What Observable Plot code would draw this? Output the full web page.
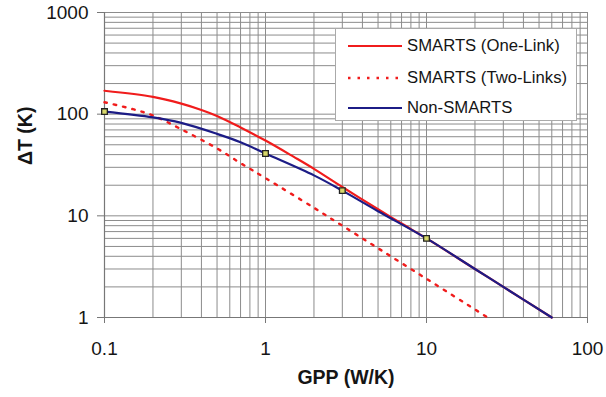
<!DOCTYPE html>
<html>
<head>
<meta charset="utf-8">
<script src="https://cdn.jsdelivr.net/npm/d3@7"></script>
<script src="https://cdn.jsdelivr.net/npm/@observablehq/plot@0.6"></script>
<style>
  html, body { margin: 0; padding: 0; background: #fff; }
  #wrap { position: relative; width: 606px; height: 397px; font-family: "Liberation Sans", Arial, sans-serif; }
  #legend { position: absolute; left: 335px; top: 28px; width: 242px; height: 93px; background: #fff; border: 1px solid #aaa; box-sizing: border-box; }
  .row { position: absolute; left: 0; height: 20px; }
  .sw { position: absolute; left: 12px; width: 54px; }
  .lbl { position: absolute; left: 71px; top: 0; font-size: 16.7px; color: #151515; white-space: nowrap; line-height: 20px; }
</style>
</head>
<body>
<div id="wrap"></div>
<script>
// Data
const gppOneLink = [0.1, 0.2, 0.3, 0.4, 0.5, 0.7, 1, 1.5, 2, 3, 5, 7, 10, 20, 30, 60];
const dtOneLink  = [170, 148, 127, 110, 96, 74, 55, 38, 29, 19.2, 11.6, 8.4, 6, 3, 2, 1];
const gppTwoLinks = [0.1, 0.15, 0.2, 0.3, 0.5, 0.7, 1, 2, 3, 5, 10, 20, 24];
const dtTwoLinks  = [131, 112, 97, 71, 46, 33, 23.5, 12, 8, 4.8, 2.4, 1.2, 1];
const gppNon = [0.1, 0.2, 0.3, 0.5, 0.7, 1, 2, 3, 5, 10, 20, 30, 60];
const dtNon  = [106, 93, 82, 64, 53, 41, 25, 17.7, 11.1, 6, 3, 2, 1];
const gppMarkers = [0.1, 1, 3, 10];
const dtMarkers  = [106, 41, 17.7, 6];
const seriesNames = ["SMARTS (One-Link)", "SMARTS (Two-Links)", "Non-SMARTS"];
const xTicks = [0.1, 1, 10, 100];
const yTicks = [1, 10, 100, 1000];
const xGrid = [0.2,0.3,0.4,0.5,0.6,0.7,0.8,0.9,1,2,3,4,5,6,7,8,9,10,20,30,40,50,60,70,80,90,100];
const yGrid = [2,3,4,5,6,7,8,9,10,20,30,40,50,60,70,80,90,100,200,300,400,500,600,700,800,900,1000];

const zip = (xs, ys) => xs.map((x, i) => ({x, y: ys[i]}));
const red = "#f01c1c", blue = "#1c1c86";

const chart = Plot.plot({
  width: 606,
  height: 397,
  marginLeft: 104,
  marginRight: 19,
  marginTop: 12,
  marginBottom: 80,
  style: { fontFamily: "Liberation Sans, Arial, sans-serif", fontSize: "19px", color: "#151515", background: "#fff" },
  x: { type: "log", domain: [0.1, 100] },
  y: { type: "log", domain: [1, 1000] },
  marks: [
    Plot.ruleX(xGrid, { stroke: "#8c8c8c", strokeWidth: 1 }),
    Plot.ruleY(yGrid, { stroke: "#8c8c8c", strokeWidth: 1 }),
    Plot.ruleX([0.1], { stroke: "#777", strokeWidth: 1.2 }),
    Plot.ruleY([1], { stroke: "#777", strokeWidth: 1.2 }),
    Plot.axisX({ ticks: xTicks, tickFormat: d => String(d), tickSize: 6, tickPadding: 18, stroke: "#777", label: null }),
    Plot.axisY({ ticks: yTicks, tickFormat: d => String(d), tickSize: 7, tickPadding: 9, stroke: "#777", label: null }),
    Plot.line(zip(gppTwoLinks, dtTwoLinks), { x: "x", y: "y", stroke: red, strokeWidth: 2.4, strokeDasharray: "2.5,7", curve: "catmull-rom" }),
    Plot.line(zip(gppOneLink, dtOneLink), { x: "x", y: "y", stroke: red, strokeWidth: 2.2, curve: "catmull-rom" }),
    Plot.line(zip(gppNon, dtNon), { x: "x", y: "y", stroke: blue, strokeWidth: 2.2, curve: "catmull-rom" }),
    Plot.dot(zip(gppMarkers, dtMarkers), { x: "x", y: "y", symbol: "square", r: 3.2, fill: "#d6d66a", stroke: "#222", strokeWidth: 1.3 }),
    Plot.text(["GPP (W/K)"], { frameAnchor: "bottom", dy: 66, fontWeight: "bold", fontSize: 19.5, fill: "#151515" }),
    Plot.text(["ΔT (K)"], { frameAnchor: "left", dx: -79, rotate: -90, fontWeight: "bold", fontSize: 19.5, fill: "#151515" })
  ]
});

const wrap = document.getElementById("wrap");
wrap.appendChild(chart);

// Legend
const legend = document.createElement("div");
legend.id = "legend";
const styles = [
  { stroke: red, dash: null, w: 2.2 },
  { stroke: red, dash: "2.5,7", w: 2.4 },
  { stroke: blue, dash: null, w: 2.2 }
];
const tops = [7, 39, 69];
seriesNames.forEach((name, i) => {
  const row = document.createElement("div");
  row.className = "row";
  row.style.top = tops[i] + "px";
  row.style.width = "240px";
  const sw = document.createElementNS("http://www.w3.org/2000/svg", "svg");
  sw.setAttribute("width", "54");
  sw.setAttribute("height", "4");
  sw.setAttribute("class", "sw");
  sw.style.top = "8px";
  const ln = document.createElementNS("http://www.w3.org/2000/svg", "line");
  ln.setAttribute("x1", "0"); ln.setAttribute("x2", "54");
  ln.setAttribute("y1", "2"); ln.setAttribute("y2", "2");
  ln.setAttribute("stroke", styles[i].stroke);
  ln.setAttribute("stroke-width", styles[i].w);
  if (styles[i].dash) ln.setAttribute("stroke-dasharray", styles[i].dash);
  sw.appendChild(ln);
  const lbl = document.createElement("div");
  lbl.className = "lbl";
  lbl.textContent = name;
  row.appendChild(sw);
  row.appendChild(lbl);
  legend.appendChild(row);
});
wrap.appendChild(legend);
</script>
</body>
</html>
